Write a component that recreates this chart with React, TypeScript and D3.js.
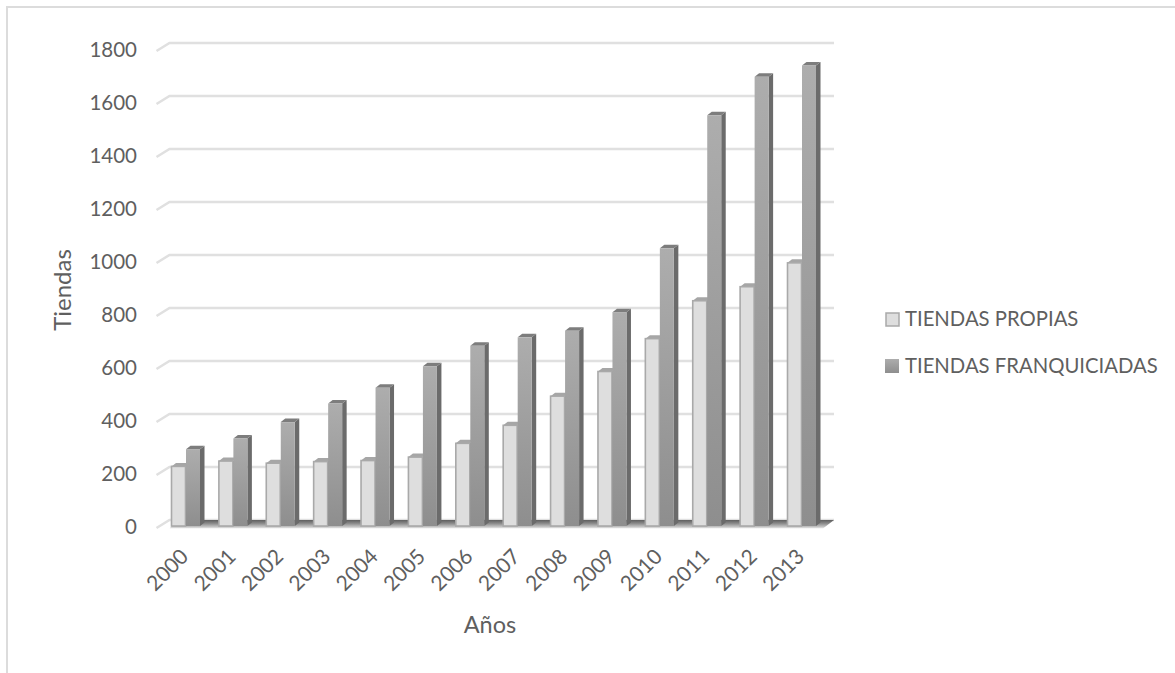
import React from "react";
import * as d3 from "d3";

const years = ["2000","2001","2002","2003","2004","2005","2006","2007","2008","2009","2010","2011","2012","2013"];
const propias = [225,245,237,243,247,260,312,380,490,583,707,850,903,993];
const franquiciadas = [290,330,392,462,522,603,680,712,737,807,1048,1550,1695,1738];
const yTicks = [0,200,400,600,800,1000,1200,1400,1600,1800];
const seriesNames = ["TIENDAS PROPIAS","TIENDAS FRANQUICIADAS"];
const FONT = "Lato, 'Open Sans', sans-serif";
const TXT = "#5f5f5f";

const W = 1175, H = 673;
const y = d3.scaleLinear().domain([0,1800]).range([526,49]);
const x = d3.scaleLinear().domain([0,13]).range([171.5,787.5]);
const bw = 14, dx = 4.5, dy = 3.5;
const wallDx = 13, wallDy = 7;

function bar(i:number, v:number, off:number, front:string, top:string, side:string, stroke?:string){
  const x0 = x(i)+off, x1 = x0+bw, yt = y(v), yb = y(0);
  return (
    <g key={off+"-"+i}>
      <polygon points={`${x1},${yt} ${x1+dx},${yt-dy} ${x1+dx},${yb-dy} ${x1},${yb}`} fill={side}/>
      <polygon points={`${x0},${yt} ${x0+dx},${yt-dy} ${x1+dx},${yt-dy} ${x1},${yt}`} fill={top}/>
      <rect x={x0} y={yt} width={bw} height={yb-yt} fill={front} stroke={stroke||"none"} strokeWidth={stroke?1.6:0}/>
    </g>
  );
}

export default function App(){
  const left = x(0)-14, right = 834;
  return (
    <svg width={W} height={H} viewBox={`0 0 ${W} ${H}`} style={{position:"fixed",left:0,top:0,background:"#fff"}}>
      <defs>
        <linearGradient id="fr" x1="0" y1="0" x2="0" y2="1">
          <stop offset="0" stopColor="#adadad"/><stop offset="1" stopColor="#8e8e8e"/>
        </linearGradient>
        <linearGradient id="floor" x1="0" y1="0" x2="0" y2="1">
          <stop offset="0" stopColor="#5e5e5e"/><stop offset="0.4" stopColor="#8a8a8a"/><stop offset="0.8" stopColor="#c4c4c4"/><stop offset="1" stopColor="#eeeeee"/>
        </linearGradient>
      </defs>
      <path d={`M7,${H} V7 H${W}`} fill="none" stroke="#dcdcdc" strokeWidth={2}/>
      {yTicks.map(t=>(
        <g key={t}>
          <polyline points={`${left-1},${y(t)+2} ${left+wallDx-1},${y(t)-wallDy+1} ${right},${y(t)-wallDy+1}`}
            fill="none" stroke="#e0e0e0" strokeWidth={2.6}/>
          <text x={137} y={y(t)+8} textAnchor="end" fontFamily={FONT} fontSize={20.5} fill={TXT}>{t}</text>
        </g>
      ))}
      <polygon points={`${left+12},${y(0)+2.5} ${left+20},${y(0)-6} ${right},${y(0)-6} ${right-11},${y(0)+2.5}`} fill="url(#floor)"/>
      {years.map((_,i)=>bar(i,propias[i],0,"#dedede","#a6a6a6","#8c8c8c","#a9a9a9"))}
      {years.map((_,i)=>bar(i,franquiciadas[i],bw+0.5,"url(#fr)","#7d7d7d","#6b6b6b"))}
      {years.map((yr,i)=>(
        <text key={yr} transform={`translate(${x(i)+1},575) rotate(-45)`} textAnchor="middle"
          fontFamily={FONT} fontSize={21} fill={TXT}>{yr}</text>
      ))}
      <text x={490} y={633} textAnchor="middle" fontFamily={FONT} fontSize={23.5} fill={TXT}>Años</text>
      <text transform="translate(71,290) rotate(-90)" textAnchor="middle" fontFamily={FONT} fontSize={24} fill={TXT}>Tiendas</text>
      <rect x={886} y={313} width={13} height={13} fill="#dedede" stroke="#a9a9a9" strokeWidth={1.5}/>
      <text x={905} y={325.5} fontFamily={FONT} fontSize={20.3} fill={TXT}>{seriesNames[0]}</text>
      <rect x={885} y={359} width={14} height={14} fill="url(#fr)"/>
      <text x={905} y={372.5} fontFamily={FONT} fontSize={20.3} fill={TXT}>{seriesNames[1]}</text>
    </svg>
  );
}
